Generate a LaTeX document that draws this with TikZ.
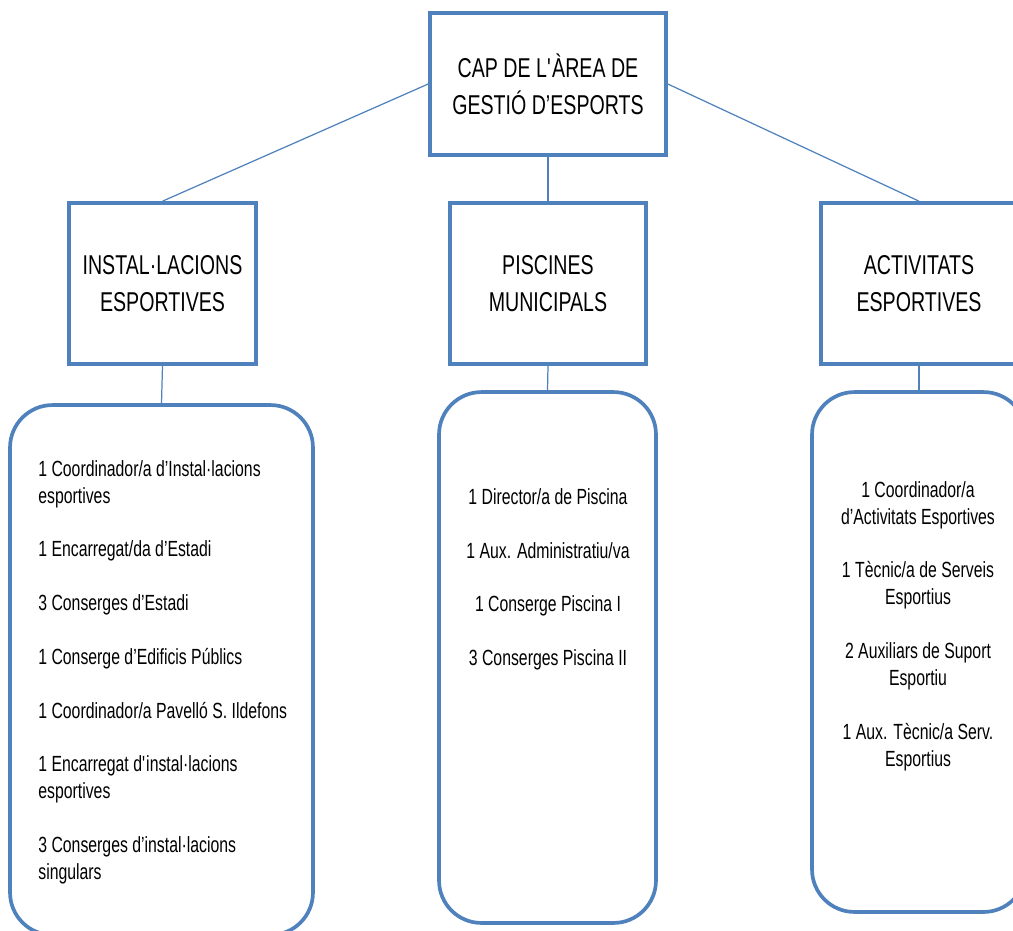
\documentclass[tikz,border=0pt]{standalone}
\usepackage{fontspec}
\setmainfont{Liberation Sans}[FakeStretch=0.72]
\usetikzlibrary{positioning}
\definecolor{OrgBlue}{HTML}{4F81BD}
\definecolor{OrgInk}{HTML}{000000}
\tikzset{
  unit/.style={draw=OrgBlue,line width=2.1pt,fill=white,minimum width=3.92cm,
               minimum height=3.22cm,text=OrgInk,align=center,
               font=\fontsize{15.5}{21}\selectfont},
  headunit/.style={unit,minimum width=4.72cm,minimum height=2.84cm},
  staff/.style={draw=OrgBlue,line width=2.1pt,rounded corners=0.85cm},
  link/.style={OrgBlue,line width=0.7pt},
  roster/.style={text=OrgInk,inner sep=0pt,font=\fontsize{12.5}{15.3}\selectfont},
}

\begin{document}
\begin{tikzpicture}[x=0.02cm,y=-0.02cm]
  \useasboundingbox (0,0) rectangle (1013,930);

  % top of the chart
  \node[headunit] (cap) at (548,84)
    {CAP DE L\textquotesingle ÀREA DE\\GESTIÓ D’ESPORTS};

  % the three areas
  \node[unit,minimum width=3.74cm] (inst) at (162.5,283.5) {INSTAL·LACIONS\\ESPORTIVES};
  \node[unit] (pisc) at (548,283.5) {PISCINES\\MUNICIPALS};
  \node[unit] (acti) at (919,283.5) {ACTIVITATS\\ESPORTIVES};

  % staff lists
  \node[staff,minimum width=6.06cm,minimum height=10.6cm] (instList) at (161.5,670) {};
  \node[staff,minimum width=4.34cm,minimum height=10.62cm] (piscList) at (547.5,657.5) {};
  \node[staff,minimum width=4.28cm,minimum height=10.4cm] (actiList) at (919,652) {};

  \node[roster,align=left,anchor=north west] (instText) at (38,460)
    {1 Coordinador/a d’Instal·lacions\\esportives\\[15.3pt]
     1 Encarregat/da d’Estadi\\[15.3pt]
     3 Conserges d’Estadi\\[15.3pt]
     1 Conserge d’Edificis Públics\\[15.3pt]
     1 Coordinador/a Pavelló S. Ildefons\\[15.3pt]
     1 Encarregat d\textquotesingle instal·lacions\\esportives\\[15.3pt]
     3 Conserges d’instal·lacions\\singulars};
  \node[roster,align=center,anchor=north] (piscText) at (548,488)
    {1 Director/a de Piscina\\[15.3pt]
     1 Aux. Administratiu/va\\[15.3pt]
     1 Conserge Piscina I\\[15.3pt]
     3 Conserges Piscina II};
  \node[roster,align=center,anchor=north] (actiText) at (918,481)
    {1 Coordinador/a\\d’Activitats Esportives\\[15.3pt]
     1 Tècnic/a de Serveis\\Esportius\\[15.3pt]
     2 Auxiliars de Suport\\Esportiu\\[15.3pt]
     1 Aux. Tècnic/a Serv.\\Esportius};

  % connectors
  \draw[link] (cap.west) -- (inst.north);
  \draw[link] (cap.south) -- (pisc.north);
  \draw[link] (cap.east) -- (acti.north);
  \draw[link] (inst.south) -- (instList.north);
  \draw[link] (pisc.south) -- (piscList.north);
  \draw[link] (acti.south) -- (actiList.north);
\end{tikzpicture}
\end{document}
